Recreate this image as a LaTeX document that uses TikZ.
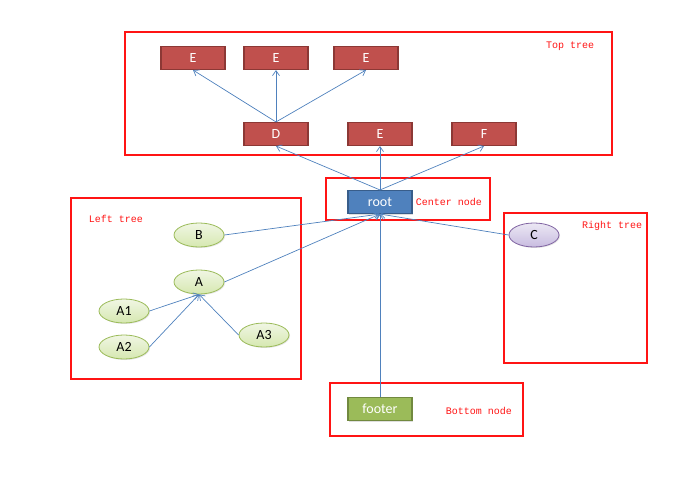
\documentclass[tikz,border=0pt]{standalone}
\usepackage{fontspec}
\setmainfont{Carlito}
\newfontfamily\labelfont{Liberation Mono}
\usetikzlibrary{shapes.geometric, arrows.meta, shadows, positioning}
\definecolor{BoxRed}{RGB}{192, 80, 77}
\definecolor{BoxRedLine}{RGB}{140, 56, 53}
\definecolor{RootBlue}{RGB}{79, 129, 189}
\definecolor{RootBlueLine}{RGB}{56, 93, 138}
\definecolor{FootGreen}{RGB}{155, 187, 89}
\definecolor{FootGreenLine}{RGB}{113, 137, 63}
\definecolor{LeafTop}{RGB}{240, 246, 228}
\definecolor{LeafBottom}{RGB}{214, 232, 176}
\definecolor{PurpleTop}{RGB}{236, 232, 244}
\definecolor{PurpleBottom}{RGB}{200, 188, 224}
\definecolor{PurpleLine}{RGB}{128, 100, 162}
\definecolor{FrameRed}{RGB}{255, 20, 20}
\tikzset{
    boxnode/.style={rectangle, draw, line width=1.1pt, minimum width=64pt, minimum height=23pt,
        inner sep=0pt, text=white, font=\fontsize{14}{16}\selectfont,
        drop shadow={opacity=0.25, shadow xshift=1pt, shadow yshift=-1pt}},
    redbox/.style={boxnode, fill=BoxRed, draw=BoxRedLine},
    leaf/.style={ellipse, draw=FootGreen, line width=0.8pt, minimum width=50pt, minimum height=24pt,
        inner sep=0pt, top color=LeafTop, bottom color=LeafBottom, font=\fontsize{14}{16}\selectfont,
        drop shadow={opacity=0.2, shadow xshift=1pt, shadow yshift=-1pt}},
    frame/.style={draw=FrameRed, line width=1.6pt},
    framelabel/.style={text=FrameRed, font=\labelfont\fontsize{10}{12}\selectfont},
    link/.style={draw=RootBlue, line width=0.7pt, -{Straight Barb[length=5pt, width=7pt]}}
}
\begin{document}
\begin{tikzpicture}[x=1pt, y=-1pt]
    \useasboundingbox (0,0) rectangle (680,500);

    %Frames
    \draw[frame] (125,32) rectangle (612,155);
    \draw[frame] (326,178) rectangle (490,220);
    \draw[frame] (71,198) rectangle (301,379);
    \draw[frame] (504,213) rectangle (647,363);
    \draw[frame] (330,383) rectangle (523,436);
    \node[framelabel] (toplabel) at (570,46) {Top tree};
    \node[framelabel] (centerlabel) at (449,202) {Center node};
    \node[framelabel] (leftlabel) at (116,219) {Left tree};
    \node[framelabel] (rightlabel) at (612,226) {Right tree};
    \node[framelabel] (bottomlabel) at (479,411) {Bottom node};

    %Top tree
    \node[redbox] (eone) at (193,58) {E};
    \node[redbox] (etwo) at (276,58) {E};
    \node[redbox] (ethree) at (366,58) {E};
    \node[redbox] (d) at (276,134) {D};
    \node[redbox] (e) at (380,134) {E};
    \node[redbox] (f) at (484,134) {F};

    %Center
    \node[boxnode, fill=RootBlue, draw=RootBlueLine] (root) at (380,202) {root};

    %Left tree
    \node[leaf] (b) at (199,235) {B};
    \node[leaf] (a) at (199,282) {A};
    \node[leaf] (aone) at (124,311) {A1};
    \node[leaf] (atwo) at (124,347) {A2};
    \node[leaf] (athree) at (264,335) {A3};

    %Right tree
    \node[leaf, draw=PurpleLine, top color=PurpleTop, bottom color=PurpleBottom] (c) at (534,235) {C};

    %Bottom
    \node[boxnode, fill=FootGreen, draw=FootGreenLine] (footer) at (380,409) {footer};

    %Links
    \draw[link] (root.north) -- (d.south);
    \draw[link] (root.north) -- (e.south);
    \draw[link] (root.north) -- (f.south);
    \draw[link] (d.north) -- (eone.south);
    \draw[link] (d.north) -- (etwo.south);
    \draw[link] (d.north) -- (ethree.south);
    \draw[link] (b.east) -- (root.south);
    \draw[link] (a.east) -- (root.south);
    \draw[link] (c.west) -- (root.south);
    \draw[link] (footer.north) -- (root.south);
    \draw[link] (aone.east) -- (a.south);
    \draw[link] (atwo.east) -- (a.south);
    \draw[link] (athree.west) -- (a.south);

\end{tikzpicture}
\end{document}
